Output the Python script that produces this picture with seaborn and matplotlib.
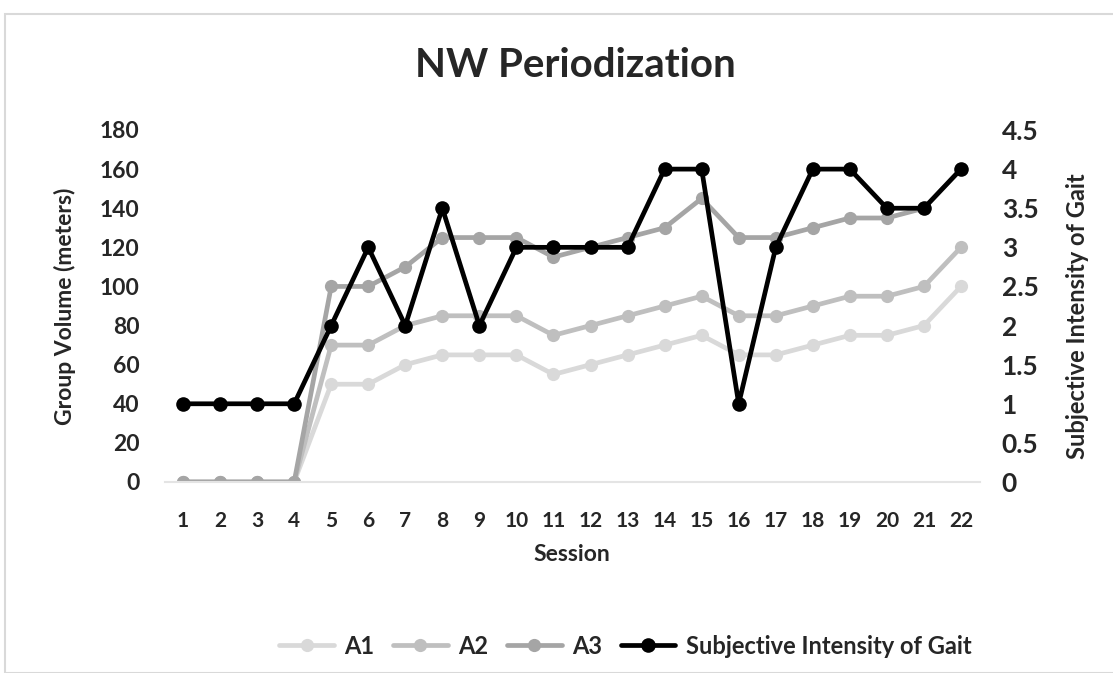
import numpy as np
import pandas as pd
import matplotlib
matplotlib.use('Agg')
import matplotlib.pyplot as plt
import seaborn as sns
from matplotlib.lines import Line2D
from matplotlib.patches import Rectangle

sessions = list(range(1, 23))
a1 = [0, 0, 0, 0, 50, 50, 60, 65, 65, 65, 55, 60, 65, 70, 75, 65, 65, 70, 75, 75, 80, 100]
a2 = [0, 0, 0, 0, 70, 70, 80, 85, 85, 85, 75, 80, 85, 90, 95, 85, 85, 90, 95, 95, 100, 120]
a3 = [0, 0, 0, 0, 100, 100, 110, 125, 125, 125, 115, 120, 125, 130, 145, 125, 125, 130, 135, 135, 140, 160]
intensity = [1, 1, 1, 1, 2, 3, 2, 3.5, 2, 3, 3, 3, 3, 4, 4, 1, 3, 4, 4, 3.5, 3.5, 4]

left_ticks = [0, 20, 40, 60, 80, 100, 120, 140, 160, 180]
right_ticks = [0, 0.5, 1, 1.5, 2, 2.5, 3, 3.5, 4, 4.5]
right_labels = ['0', '0.5', '1', '1.5', '2', '2.5', '3', '3.5', '4', '4.5']

colors = {'A1': '#d9d9d9', 'A2': '#bfbfbf', 'A3': '#a5a5a5'}

sns.set_style('white')
plt.rcParams['font.family'] = ['Lato', 'DejaVu Sans']

df = pd.DataFrame({'Session': sessions, 'A1': a1, 'A2': a2, 'A3': a3})
long_df = df.melt(id_vars='Session', var_name='group', value_name='volume')
sub_df = pd.DataFrame({'Session': sessions, 'intensity': intensity})

fig = plt.figure(figsize=(11.13, 6.73), dpi=100)
ax = fig.add_axes([164.5 / 1113, 1 - 482 / 673, 815 / 1113, 352 / 673])

sns.lineplot(data=long_df, x='Session', y='volume', hue='group', palette=colors,
             marker='o', markersize=9.5, linewidth=3.4, markeredgewidth=0,
             ax=ax, legend=False)
ax.set_xlim(0.5, 22.5)
ax.set_ylim(0, 180)
ax.set_xticks(sessions)
ax.set_xticklabels([str(s) for s in sessions], fontsize=15, fontweight='bold')
ax.set_yticks(left_ticks)
ax.set_yticklabels([str(t) for t in left_ticks], fontsize=16.5, fontweight='bold')
ax.tick_params(axis='y', length=0, pad=18)
ax.tick_params(axis='x', length=0, pad=21)
ax.set_xlabel('Session', fontsize=16.5, fontweight='bold', labelpad=9)
ax.set_ylabel('Group Volume (meters)', fontsize=16.5, fontweight='bold', labelpad=17)
for side in ['top', 'right', 'left']:
    ax.spines[side].set_visible(False)
ax.spines['bottom'].set_color('#e4e4e4')
ax.spines['bottom'].set_linewidth(1.5)

ax2 = ax.twinx()
sns.lineplot(data=sub_df, x='Session', y='intensity', color='black',
             marker='o', markersize=10.5, linewidth=3.4, markeredgewidth=0, ax=ax2)
ax2.set_ylim(0, 4.5)
ax2.set_yticks(right_ticks)
ax2.set_yticklabels(right_labels, fontsize=19, fontweight='bold')
ax2.tick_params(axis='y', length=0, pad=16)
ax2.set_ylabel('Subjective Intensity of Gait', fontsize=17, fontweight='bold',
               rotation=90)
ax2.yaxis.set_label_coords(1.106, 0.47)
for side in ['top', 'right', 'left', 'bottom']:
    ax2.spines[side].set_visible(False)

fig.suptitle('NW Periodization', fontsize=29, fontweight='bold', x=0.517, y=0.93)

handles = [Line2D([], [], color=colors[g], marker='o', markersize=9.5, linewidth=3.4,
                  markeredgewidth=0) for g in ['A1', 'A2', 'A3']]
handles.append(Line2D([], [], color='black', marker='o', markersize=10.5, linewidth=3.4,
                      markeredgewidth=0))
fig.legend(handles, ['A1', 'A2', 'A3', 'Subjective Intensity of Gait'],
           loc='center', bbox_to_anchor=(0.562, 0.04), ncol=4, frameon=False,
           prop={'size': 17, 'weight': 'bold'}, handlelength=2.3,
           columnspacing=0.8, handletextpad=0.45)

fig.patches.append(Rectangle((5 / 1113, 0), 1, 1 - 14 / 673, transform=fig.transFigure,
                             fill=False, edgecolor='#d9d9d9', linewidth=1.5))

fig.savefig('out.png', dpi=100)
